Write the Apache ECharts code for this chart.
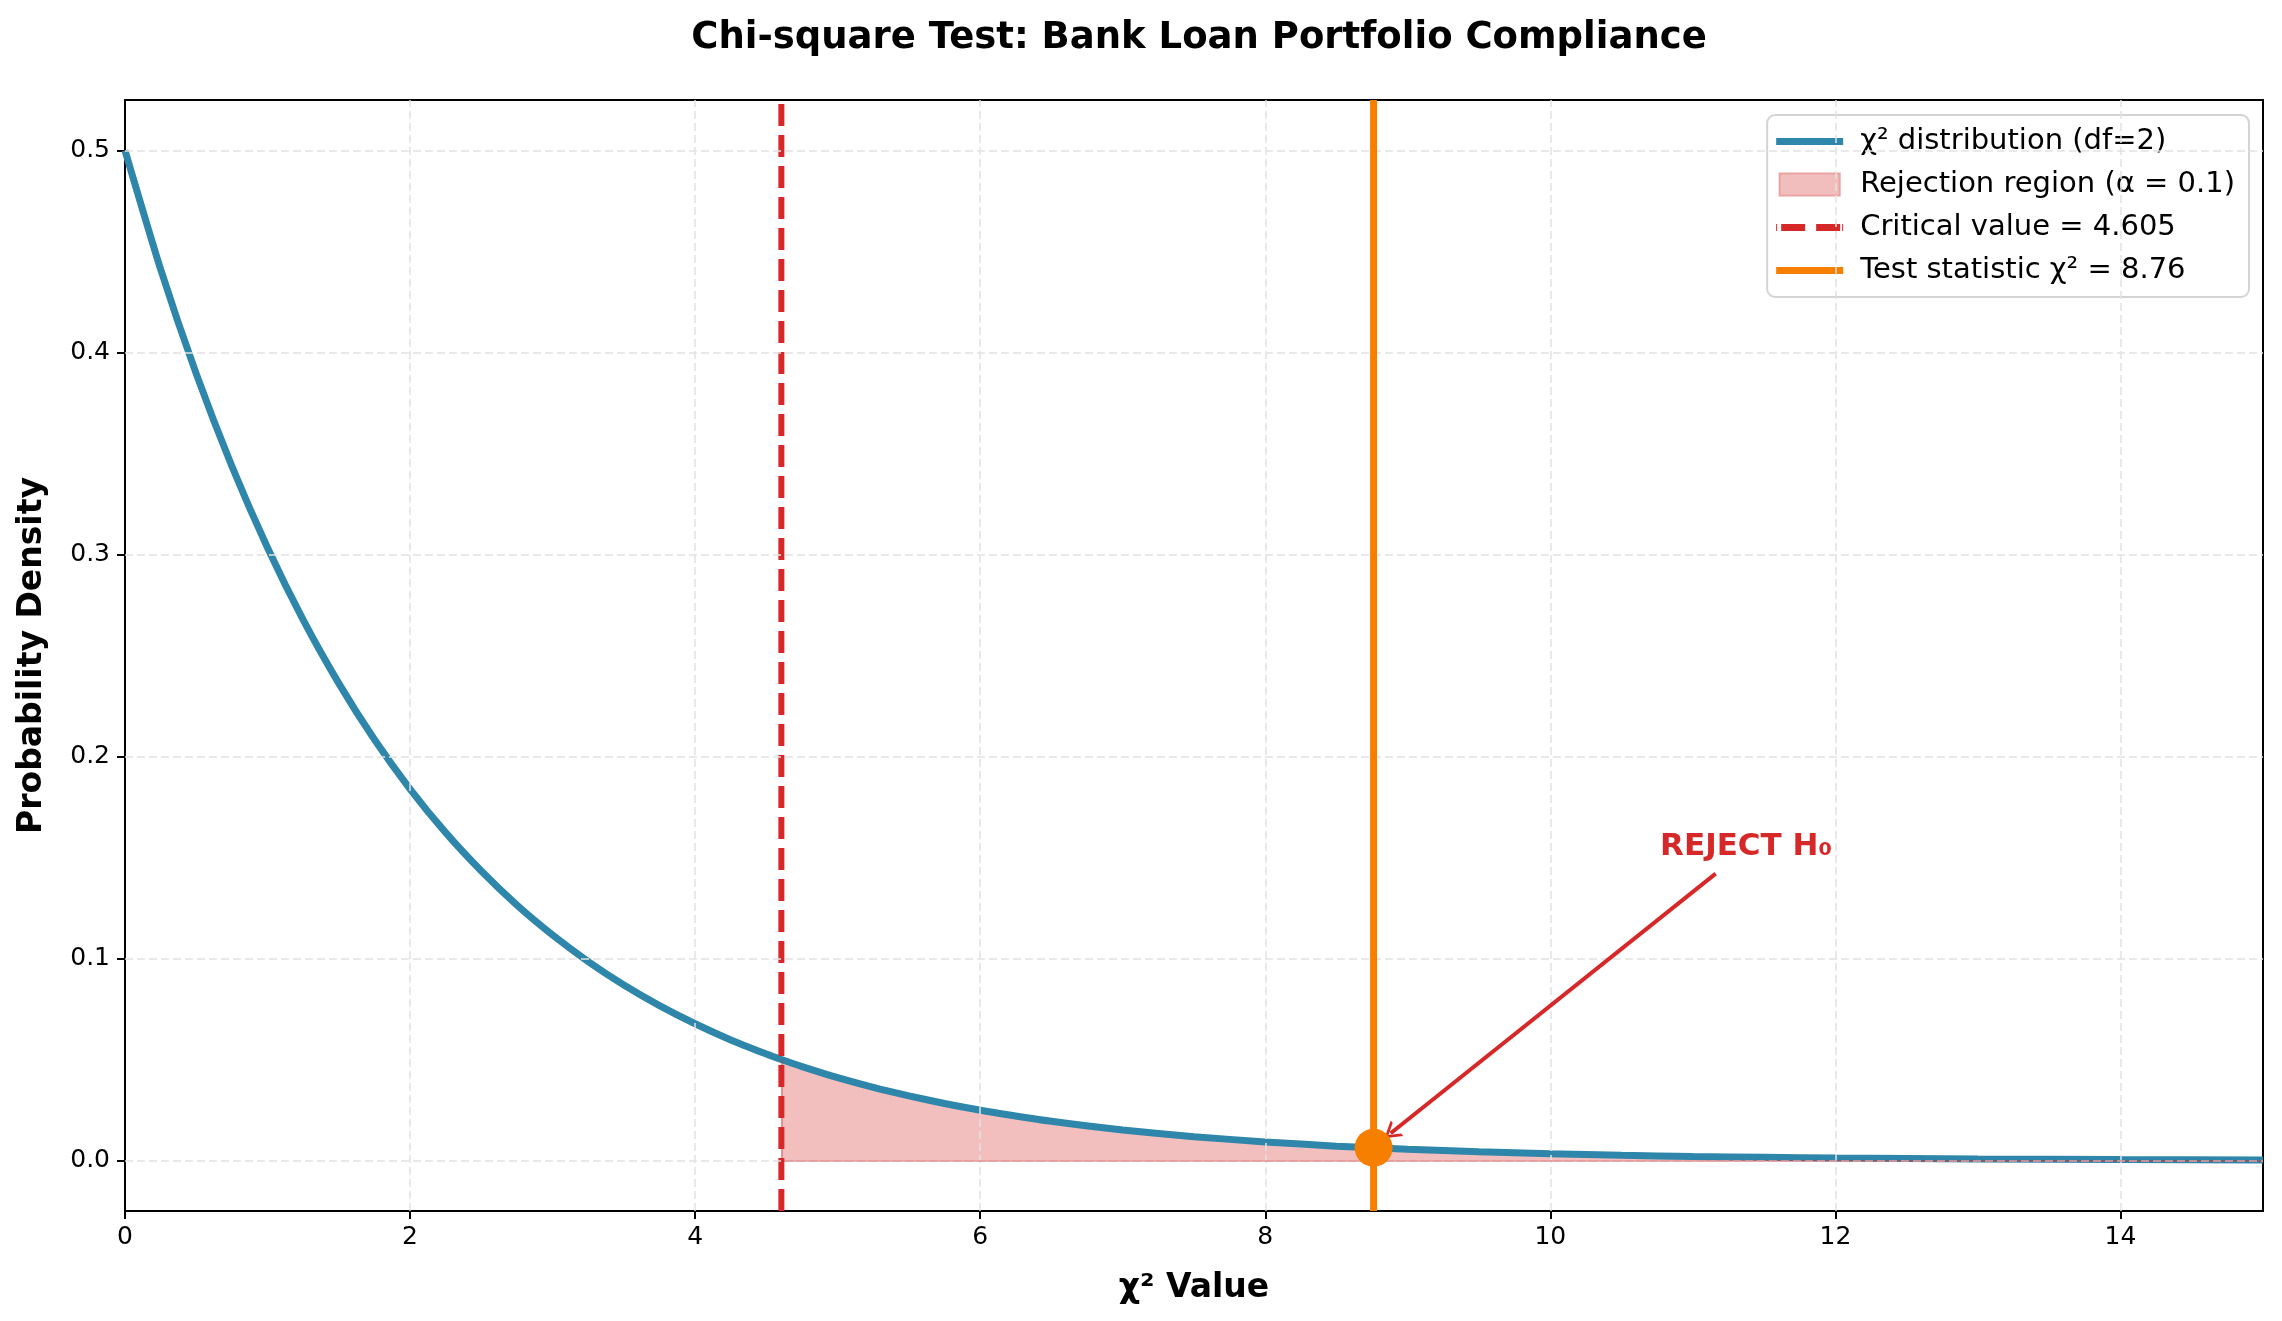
<!DOCTYPE html>
<html>
<head>
<meta charset="utf-8">
<script src="https://cdn.jsdelivr.net/npm/echarts@6/dist/echarts.min.js"></script>
<style>
html,body{margin:0;padding:0;background:#fff;}
#chart{width:2282px;height:1321px;}
</style>
</head>
<body>
<div id="chart"></div>
<script>
// ---- data ----
const chiX = [0, 0.25, 0.5, 0.75, 1, 1.25, 1.5, 1.75, 2, 2.25, 2.5, 2.75, 3, 3.25, 3.5, 3.75, 4, 4.25, 4.5, 4.605, 4.75, 5, 5.25, 5.5, 5.75, 6, 6.5, 7, 7.5, 8, 8.5, 8.76, 9, 9.5, 10, 10.5, 11, 11.5, 12, 13, 14, 15];
const chiDensity = [0.5, 0.4412, 0.3894, 0.3437, 0.3033, 0.2676, 0.2362, 0.2084, 0.1839, 0.1623, 0.1433, 0.1264, 0.1116, 0.0985, 0.0869, 0.0767, 0.0677, 0.0597, 0.0527, 0.0500, 0.0465, 0.0410, 0.0362, 0.0320, 0.0282, 0.0249, 0.0194, 0.0151, 0.0118, 0.0092, 0.0071, 0.0063, 0.0056, 0.0043, 0.0034, 0.0026, 0.0020, 0.0016, 0.0012, 0.00075, 0.00046, 0.00028];
const criticalValue = 4.605;
const testStatistic = 8.76;
const testDensity = 0.0063;
const xRange = [0, 15];
const yRange = [-0.025, 0.525];
const xTicks = [0, 2, 4, 6, 8, 10, 12, 14];
const yTicks = [0, 0.1, 0.2, 0.3, 0.4, 0.5];
const annotationText = 'REJECT H₀';
const annotationAt = [10.77, 0.155];
const arrowFrom = [11.16, 0.142];
const arrowTo = [8.88, 0.0135];
const seriesNames = ['χ² distribution (df=2)', 'Rejection region (α = 0.1)', 'Critical value = 4.605', 'Test statistic χ² = 8.76'];

// ---- build ----
const curveData = chiX.map((x, i) => [x, chiDensity[i]]);
const rejectionData = curveData.filter(p => p[0] >= criticalValue);
const FONT = 'DejaVu Sans';
const chart = echarts.init(document.getElementById('chart'), null, {renderer: 'canvas'});

const solidIcon = 'path://M0,0 H67 V7 H0 Z';
const dashIcon = 'path://M0,0 H1 V7 H0 Z M5,0 H29 V7 H5 Z M40,0 H64 V7 H40 Z M66,0 H67 V7 H66 Z';
const rectIcon = 'path://M0,0 H60 V22 H0 Z';

const option = {
  backgroundColor: '#fff',
  animation: false,
  title: {
    text: 'Chi-square Test: Bank Loan Portfolio Compliance',
    left: 1194, top: 15, textAlign: 'center',
    textStyle: {fontFamily: FONT, fontSize: 37, fontWeight: 'bold', color: '#000'}
  },
  grid: {left: 125, right: 19, top: 100, bottom: 110, show: true, borderColor: '#000', borderWidth: 2, backgroundColor: 'transparent'},
  legend: {
    orient: 'vertical', right: 33, top: 115,
    itemWidth: 67, itemHeight: 22, itemGap: 14,
    padding: [12, 14, 12, 9],
    backgroundColor: 'rgba(255,255,255,0.85)', borderColor: '#d4d4d4', borderWidth: 2, borderRadius: 8,
    symbolKeepAspect: true,
    textStyle: {fontFamily: FONT, fontSize: 29, color: '#000', padding: [0, 0, 0, 12]},
    data: [
      {name: seriesNames[0], icon: solidIcon, itemStyle: {color: '#2E86AB', borderWidth: 0}},
      {name: seriesNames[1], icon: rectIcon, itemStyle: {color: '#F2BDBD', borderColor: '#E9A3A3', borderWidth: 2}},
      {name: seriesNames[2], icon: dashIcon, itemStyle: {color: '#D62828', borderWidth: 0}},
      {name: seriesNames[3], icon: solidIcon, itemStyle: {color: '#F77F00', borderWidth: 0}}
    ]
  },
  xAxis: {
    type: 'value', min: xRange[0], max: xRange[1],
    name: 'χ² Value', nameLocation: 'middle', nameGap: 61,
    nameTextStyle: {fontFamily: FONT, fontSize: 33, fontWeight: 'bold', color: '#000'},
    axisLine: {show: true, onZero: false, lineStyle: {color: '#000', width: 2}},
    axisTick: {show: true, length: 8, lineStyle: {color: '#000', width: 2}, customValues: xTicks},
    axisLabel: {fontFamily: FONT, fontSize: 25, color: '#000', margin: 14, customValues: xTicks},
    splitLine: {show: false}
  },
  yAxis: {
    type: 'value', min: yRange[0], max: yRange[1],
    name: 'Probability Density', nameLocation: 'middle', nameGap: 76,
    nameTextStyle: {fontFamily: FONT, fontSize: 33, fontWeight: 'bold', color: '#000'},
    axisLine: {show: true, onZero: false, lineStyle: {color: '#000', width: 2}},
    axisTick: {show: true, length: 8, lineStyle: {color: '#000', width: 2}, customValues: yTicks},
    axisLabel: {fontFamily: FONT, fontSize: 25, color: '#000', margin: 15, customValues: yTicks, formatter: v => v.toFixed(1)},
    splitLine: {show: false}
  },
  series: [
    {
      name: 'grid', type: 'line', data: [], z: 1, silent: true,
      markLine: {
        silent: true, symbol: 'none', label: {show: false}, animation: false,
        lineStyle: {color: '#e2e2e2', type: [8, 4], width: 1.5},
        data: xTicks.slice(1).map(v => ({xAxis: v})).concat(yTicks.map(v => ({yAxis: v})))
      }
    },
    {
      name: seriesNames[1], type: 'line', data: rejectionData, z: 2, symbol: 'none',
      itemStyle: {color: '#F2BDBD'},
      lineStyle: {width: 0},
      areaStyle: {color: 'rgba(214,40,40,0.3)', opacity: 1},
      markLine: {
        silent: true, symbol: 'none', label: {show: false},
        lineStyle: {color: 'rgba(214,40,40,0.35)', type: 'solid', width: 2},
        data: [[{coord: [criticalValue, 0]}, {coord: [xRange[1], 0]}], [{coord: [criticalValue, 0]}, {coord: [criticalValue, chiDensity[chiX.indexOf(criticalValue)]]}]]
      }
    },
    {
      name: seriesNames[0], type: 'line', data: curveData, z: 3, symbol: 'none', smooth: 0.2,
      itemStyle: {color: '#2E86AB'},
      lineStyle: {color: '#2E86AB', width: 7}
    },
    {
      name: seriesNames[2], type: 'line', data: [[criticalValue, yRange[0]], [criticalValue, yRange[1]]], z: 4, symbol: 'none',
      itemStyle: {color: '#D62828'},
      lineStyle: {color: '#D62828', width: 6, type: [22, 9]}
    },
    {
      name: seriesNames[3], type: 'line', data: [[testStatistic, yRange[0]], [testStatistic, yRange[1]]], z: 5, symbol: 'none',
      itemStyle: {color: '#F77F00'},
      lineStyle: {color: '#F77F00', width: 7}
    },
    {
      name: 'point', type: 'scatter', data: [[testStatistic, testDensity]], z: 6,
      symbolSize: 38, itemStyle: {color: '#F77F00', opacity: 1}
    },
    {
      name: 'annotation', type: 'scatter', data: [annotationAt], z: 7, symbolSize: 0,
      itemStyle: {color: 'rgba(0,0,0,0)', opacity: 1},
      label: {show: true, position: 'right', distance: 0, formatter: annotationText, opacity: 1,
        fontFamily: FONT, fontSize: 31, fontWeight: 'bold', color: '#D62828'},
      markLine: {
        silent: true, symbol: ['none', 'path://M5,0 L10,10 L8.4,10 L5,3.2 L1.6,10 L0,10 Z'], symbolSize: [20, 16], label: {show: false},
        lineStyle: {color: '#D62828', width: 4, type: 'solid', opacity: 1},
        itemStyle: {color: '#D62828'},
        data: [[{coord: arrowFrom}, {coord: arrowTo}]]
      }
    }
  ]
};
chart.setOption(option);
</script>
</body>
</html>
